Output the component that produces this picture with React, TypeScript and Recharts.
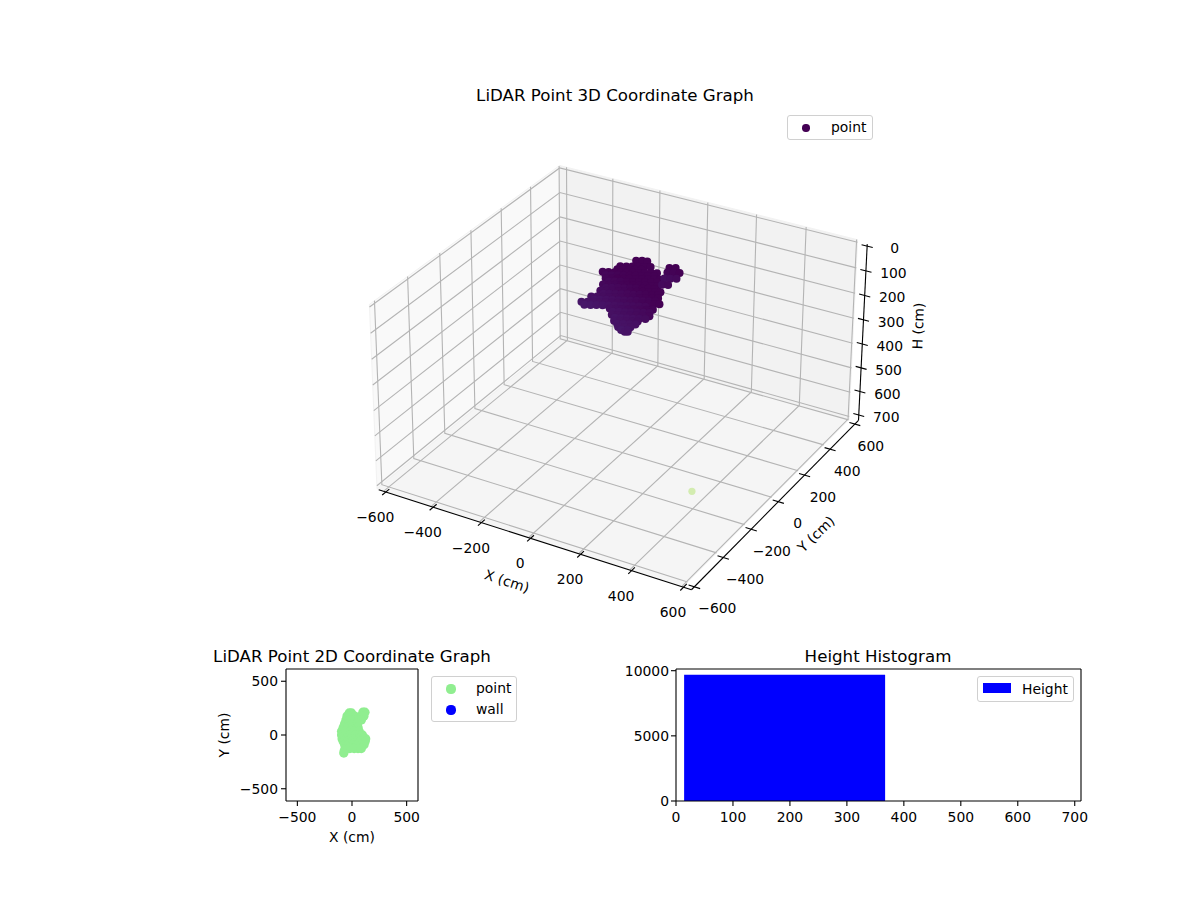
import React from 'react';
import { ScatterChart, Scatter, BarChart, Bar, XAxis, YAxis, ReferenceLine, Legend } from 'recharts';

const FONT = 'DejaVu Sans';
const MINUS = '\u2212';
const fmt = (v: number) => String(v).replace('-', MINUS);

// ---------- data ----------
const xyTicks3D = [-600, -400, -200, 0, 200, 400, 600];
const hTicks3D = [0, 100, 200, 300, 400, 500, 600, 700];
const ticks2D = [-500, 0, 500];
const histXTicks = [0, 100, 200, 300, 400, 500, 600, 700];
const histYTicks = [0, 5000, 10000];
const binMid = [190, 545];
const binCount = [9693, 1];

// LiDAR returns, X / H by sweep row, each row sharing one Y
const cloudRowY = [150, 125, 210, 100, 210, 70, 210, 45, 150, 20, -5, -30, -60, -85, -110, -130, -150];
const cloudRowX = [
  [-8, 16, 37],
  [-58, -33, -9, 16, 40, 65, -70, -46, -21, 3, 28],
  [93, 118],
  [-115, -91, -66, -42, -17, 7, 32, 56, 81, 105, -103, -79, -54, -30, -5, 19, 44, 68, 93],
  [85, 110, 134],
  [-85, -60, -36, -11, 13, 38, 62, 87, 111, 136, -73, -48, -24, 1, 25, 50, 74, 99, 123],
  [73, 97, 122],
  [-81, -57, -32, -8, 17, 41, 66, 90, 115, 139, -69, -45, -20, 4, 29, 53, 78, 102, 127],
  [98, 122],
  [-77, -53, -28, -4, 21, 45, 70, 94, 119, 143, 165, -65, -41, -16, 8, 33, 57, 82, 106, 131, 155],
  [-99, -75, -50, -26, -1, 23, 48, 72, 97, 121, 146, 170, -87, -63, -38, -14, 11, 35, 60, 84, 109, 133, 158],
  [-124, -99, -75, -50, -26, -1, 23, 48, 72, 97, 121, 146, 170, 190, -112, -87, -63, -38, -14, 11, 35, 60, 84, 109, 134],
  [9, 34, 58, 83, 107, 132, 156, 181, 21, 46, 70, 95, 119, 144, 168],
  [32, 56, 80, 105, 129, 154, 182, 44, 68, 92, 117, 141, 166],
  [56, 80, 105, 129, 150, 68, 92, 117, 141],
  [84, 109, 133, 96, 121],
  [122, 134],
];
const cloudRowH = [
  [21, 15, 13],
  [44, 39, 33, 27, 22, 16, 59, 53, 48, 42, 36],
  [51, 45],
  [69, 64, 58, 53, 47, 41, 36, 30, 24, 19, 78, 73, 67, 62, 56, 50, 45, 39, 33],
  [71, 66, 60],
  [73, 67, 61, 56, 50, 44, 39, 33, 27, 22, 82, 76, 70, 65, 59, 53, 48, 42, 36],
  [97, 92, 86],
  [85, 79, 73, 68, 62, 57, 51, 45, 40, 34, 94, 88, 82, 77, 71, 66, 60, 54, 49],
  [88, 83],
  [96, 90, 84, 79, 73, 68, 62, 56, 51, 45, 40, 105, 99, 93, 88, 82, 77, 71, 65, 60, 54],
  [113, 107, 101, 96, 90, 85, 79, 73, 68, 62, 56, 51, 122, 116, 110, 105, 99, 94, 88, 82, 77, 71, 65],
  [128, 122, 116, 111, 105, 99, 94, 88, 83, 77, 71, 66, 60, 56, 137, 131, 125, 120, 114, 108, 103, 97, 92, 86, 80],
  [106, 100, 95, 89, 83, 78, 72, 66, 115, 109, 104, 98, 92, 87, 81],
  [112, 107, 101, 96, 90, 84, 78, 121, 116, 110, 105, 99, 93],
  [117, 111, 106, 100, 95, 126, 120, 115, 109],
  [124, 118, 112, 133, 127],
  [123, 120],
];
const cloudOriginX = -28;
const cloudOriginH = 7;
const strayPoint = { x: 352, y: -120, h: 700 };

// plan view of the same cloud
const planRowY = [212, 205, 175, 140, 105, 70, 35, 0, -35, -60, -90, -125, -145, -167];
const planRowX = [
  [100, 118],
  [-25, -5],
  [-45, -10, 25, 85, 108],
  [-55, -20, 20, 60, 85],
  [-67, -30, 10, 50],
  [-80, -40, 0, 40, 55],
  [-95, -55, -15, 25, 65],
  [-95, -55, -15, 25, 65, 95],
  [-90, -50, -10, 30, 70, 105, 125],
  [-80, -40, 0, 40, 80, 120],
  [-67, -30, 10, 50, 90, 110],
  [-55, -20, 20, 55, 85],
  [-70],
  [-75],
];

// ---------- 3D camera, fitted to grid crossings seen in the picture ----------
type V3 = [number, number, number];
const X0 = -630, E = 604, Z0 = -10, Z1 = 712, A = 630, AY = 620, AXIS_BOT = 722;
const cornerWorld: V3[] = [
  [600, -600, 712], [-600, -600, 712], [600, 600, 712], [-600, 600, 712], [-600, 600, 0],
  [600, 600, 0], [-630, -600, 0], [-630, 600, 0], [-630, 600, 712],
];
const cornerPicture = [[686, 583], [389, 486], [848, 417], [568, 341], [567, 169], [856, 244], [375, 303], [557.7, 168.3], [559, 340.7]];

const norm = (p: V3): V3 => [p[0] / 600, p[1] / 600, (p[2] - 350) / 350];
function fitCamera(): number[] {
  const rows: number[][] = [];
  const rhs: number[] = [];
  cornerWorld.forEach((w, i) => {
    const [a, b, c] = norm(w);
    const u = (cornerPicture[i][0] - 600) / 600;
    const v = (cornerPicture[i][1] - 450) / 600;
    rows.push([a, b, c, 1, 0, 0, 0, 0, -u * a, -u * b, -u * c]); rhs.push(u);
    rows.push([0, 0, 0, 0, a, b, c, 1, -v * a, -v * b, -v * c]); rhs.push(v);
  });
  const n = 11;
  const M = Array.from({ length: n }, (_, i) =>
    Array.from({ length: n + 1 }, (_, j) => rows.reduce((s, row, k) => s + row[i] * (j < n ? row[j] : rhs[k]), 0)),
  );
  for (let i = 0; i < n; i++) {
    let best = i;
    for (let r = i + 1; r < n; r++) if (Math.abs(M[r][i]) > Math.abs(M[best][i])) best = r;
    [M[i], M[best]] = [M[best], M[i]];
    for (let r = 0; r < n; r++) {
      if (r === i) continue;
      const f = M[r][i] / M[i][i];
      for (let c = i; c <= n; c++) M[r][c] -= f * M[i][c];
    }
  }
  return M.map((r, i) => r[n] / r[i]);
}
const P = fitCamera();
function project(x: number, y: number, h: number) {
  const [a, b, c] = norm([x, y, h]);
  const d = P[8] * a + P[9] * b + P[10] * c + 1;
  return {
    px: ((P[0] * a + P[1] * b + P[2] * c + P[3]) / d) * 600 + 600,
    py: ((P[4] * a + P[5] * b + P[6] * c + P[7]) / d) * 600 + 450,
  };
}
const path3 = (pts: V3[]) => pts.map((p) => project(p[0], p[1], p[2]));
// the H axis stands slightly in front of the box, so its scale runs a little shorter
const hAxis = (t: number) => t + 20 * (1 - t / 700);

// ---------- shapes ----------
const noShape = () => null;
const TextShape = (p: any) => {
  const d = p.payload;
  return (
    <text
      x={p.cx}
      y={p.cy}
      textAnchor="middle"
      dominantBaseline="central"
      fontFamily={FONT}
      fontSize={d.size ?? 13.9}
      fill="#000"
      transform={d.rot ? `rotate(${d.rot} ${p.cx} ${p.cy})` : undefined}
    >
      {d.label}
    </text>
  );
};
const DotShape3D = (p: any) => <circle cx={p.cx} cy={p.cy} r={p.payload.r} fill={p.payload.fill} />;
const Dot2D = (p: any) => <circle cx={p.cx} cy={p.cy} r={4.7} fill="#90ee90" />;

const polyLine = (key: string, pts: { px: number; py: number }[], stroke: string, width: number) => (
  <Scatter key={key} data={pts} shape={noShape} line={{ stroke, strokeWidth: width }} lineJointType="linear" isAnimationActive={false} />
);
const polygon = (key: string, pts: { px: number; py: number }[], fill: string) => (
  <Scatter
    key={key}
    data={pts}
    shape={noShape}
    isAnimationActive={false}
    line={(lp: any) => (
      <polygon points={lp.points.map((q: any) => `${q.x},${q.y}`).join(' ')} fill={fill} stroke="#f2f2f2" strokeWidth={1} />
    )}
  />
);

// ---------- series built from the arrays ----------
const heightColor = (h: number) => {
  const t = Math.min(1, Math.max(0, (h - 60) / 90));
  return `rgb(${Math.round(68 + 3 * t)},${Math.round(1 + 26 * t)},${Math.round(84 + 25 * t)})`;
};
const cloud3D = cloudRowY.flatMap((y, i) =>
  cloudRowX[i].map((x, j) => ({
    ...project(x + cloudOriginX, y, cloudRowH[i][j] + cloudOriginH),
    fill: heightColor(cloudRowH[i][j]),
    r: 4,
  })),
);
const stray3D = [{ ...project(strayPoint.x, strayPoint.y, strayPoint.h), fill: '#d3ecb0', r: 3.6 }];
const cloud2D = planRowY.flatMap((y, i) => planRowX[i].map((x) => ({ x, y })));
const histData = binMid.map((mid, i) => ({ mid, count: binCount[i] }));

const GRID = '#b4b4b4';
const AXIS = '#000000';

const tickLabels3D = [
  ...xyTicks3D.map((t) => { const q = project(t, -AY, AXIS_BOT); return { px: q.px - 10.5, py: q.py + 25, label: fmt(t) }; }),
  ...xyTicks3D.map((t) => { const q = project(A, t, AXIS_BOT); return { px: q.px + 19.5 - t * 0.0058, py: q.py + 21.5, label: fmt(t) }; }),
  ...hTicks3D.map((t) => { const q = project(A, A, hAxis(t)); return { px: q.px + 27.5, py: q.py + 2, label: fmt(t) }; }),
];
const axisTitles3D = [
  { px: 507, py: 581, label: 'X (cm)', rot: 18 },
  { px: 816, py: 534, label: 'Y (cm)', rot: -44 },
  { px: 918, py: 326, label: 'H (cm)', rot: -88 },
];
const figureTitles = [
  { px: 615, py: 95, label: 'LiDAR Point 3D Coordinate Graph', size: 16.67 },
  { px: 352, py: 656, label: 'LiDAR Point 2D Coordinate Graph', size: 16.67 },
  { px: 878, py: 656, label: 'Height Histogram', size: 16.67 },
];

// ---------- legends ----------
const legendBox = (w: number, h: number): React.CSSProperties => ({
  position: 'relative', width: w, height: h, boxSizing: 'border-box', background: 'rgba(255,255,255,0.8)',
  border: '1px solid #d0d0d0', borderRadius: 3, fontFamily: FONT, fontSize: 13.9, color: '#000',
});
const legendDot = (left: number, top: number, r: number, color: string): React.CSSProperties => ({
  position: 'absolute', left: left - r, top: top - r, width: 2 * r, height: 2 * r, borderRadius: '50%', background: color,
});
const legendText = (left: number, top: number): React.CSSProperties => ({ position: 'absolute', left, top, lineHeight: '16px', whiteSpace: 'nowrap' });
const noOffset = { layout: 'horizontal' as const, verticalAlign: 'middle' as const, align: 'center' as const };

const Legend3D = () => (
  <div style={legendBox(86, 25)}>
    <span style={legendDot(18, 12, 3.7, '#440154')} />
    <span style={legendText(43, 3)}>point</span>
  </div>
);
const Legend2D = () => (
  <div style={legendBox(86, 46)}>
    <span style={legendDot(19, 12, 4.6, '#90ee90')} />
    <span style={legendText(44, 3)}>point</span>
    <span style={legendDot(19, 33, 4.6, '#0000ff')} />
    <span style={legendText(44, 24)}>wall</span>
  </div>
);
const LegendHist = () => (
  <div style={legendBox(97, 26)}>
    <span style={{ position: 'absolute', left: 5, top: 6, width: 28, height: 10, background: '#0000ff' }} />
    <span style={legendText(44, 4)}>Height</span>
  </div>
);

const layer: React.CSSProperties = { position: 'absolute', left: 0, top: 0 };
const tickStyle = { fill: '#000', fontSize: 13.9, fontFamily: FONT };
const lineStyle = { stroke: '#000', strokeWidth: 1.1 };

export default function App() {
  return (
    <div style={{ position: 'absolute', left: 0, top: 0, width: 1200, height: 900, background: '#fff', fontFamily: FONT, overflow: 'hidden' }}>
      {/* 3D panel */}
      <div style={layer}>
        <ScatterChart width={1200} height={900} margin={{ top: 0, right: 0, bottom: 0, left: 0 }}>
          <XAxis type="number" dataKey="px" domain={[0, 1200]} hide />
          <YAxis type="number" dataKey="py" domain={[0, 900]} reversed hide />
          <Legend {...noOffset} content={Legend3D} wrapperStyle={{ left: 787, top: 115, width: 86, height: 25, bottom: 'auto' }} />
          {polygon('paneLeft', path3([[X0, X0, Z1], [X0, E, Z1], [X0, E, Z0], [X0, X0, Z0]]), '#f9f9f9')}
          {polygon('paneBack', path3([[X0, E, Z1], [E, E, Z1], [E, E, Z0], [X0, E, Z0]]), '#f2f2f2')}
          {polygon('paneFloor', path3([[X0, X0, Z1], [E, X0, Z1], [E, E, Z1], [X0, E, Z1]]), '#f5f5f5')}
          {xyTicks3D.map((t) => polyLine(`gx${t}`, path3([[t, X0, Z1], [t, E, Z1], [t, E, Z0]]), GRID, 1.1))}
          {xyTicks3D.map((t) => polyLine(`gy${t}`, path3([[E, t, Z1], [X0, t, Z1], [X0, t, Z0]]), GRID, 1.1))}
          {hTicks3D.map((t) => polyLine(`gh${t}`, path3([[X0, X0, t], [X0, E, t], [E, E, t]]), GRID, 1.1))}
          {polyLine('axisX', path3([[-A, -AY, AXIS_BOT], [A, -AY, AXIS_BOT]]), AXIS, 1.1)}
          {polyLine('axisY', path3([[A, -AY, AXIS_BOT], [A, A, AXIS_BOT]]), AXIS, 1.1)}
          {polyLine('axisH', path3([[A, A, AXIS_BOT], [A, A, hAxis(-8)]]), AXIS, 1.1)}
          {xyTicks3D.map((t) => polyLine(`tx${t}`, path3([[t, -AY + 22, AXIS_BOT], [t, -AY - 22, AXIS_BOT]]), AXIS, 1.1))}
          {xyTicks3D.map((t) => polyLine(`ty${t}`, path3([[A - 22, t, AXIS_BOT], [A + 22, t, AXIS_BOT]]), AXIS, 1.1))}
          {hTicks3D.map((t) => polyLine(`th${t}`, path3([[A - 22, A, hAxis(t)], [A + 22, A, hAxis(t)]]), AXIS, 1.1))}
          <Scatter data={stray3D} shape={DotShape3D} isAnimationActive={false} />
          <Scatter data={cloud3D} shape={DotShape3D} isAnimationActive={false} />
          <Scatter data={tickLabels3D} shape={TextShape} isAnimationActive={false} />
          <Scatter data={axisTitles3D} shape={TextShape} isAnimationActive={false} />
          <Scatter data={figureTitles} shape={TextShape} isAnimationActive={false} />
        </ScatterChart>
      </div>

      {/* 2D panel */}
      <div style={layer}>
        <ScatterChart width={1200} height={900} margin={{ top: 669, right: 782, bottom: 59, left: 226 }}>
          <XAxis
            type="number" dataKey="x" domain={[-604, 604]} ticks={ticks2D} tickFormatter={fmt} height={40}
            tick={tickStyle} axisLine={lineStyle} tickLine={lineStyle} tickSize={5} tickMargin={6} interval={0}
            label={{ value: 'X (cm)', position: 'insideBottom', offset: -1, style: { fill: '#000', fontSize: 13.9, fontFamily: FONT } }}
          />
          <YAxis
            type="number" dataKey="y" domain={[-614, 614]} ticks={ticks2D} tickFormatter={fmt} width={60}
            tick={tickStyle} axisLine={lineStyle} tickLine={lineStyle} tickSize={5} tickMargin={3} interval={0}
            label={{ value: 'Y (cm)', angle: -90, position: 'insideLeft', offset: -2, style: { fill: '#000', fontSize: 13.9, fontFamily: FONT, textAnchor: 'middle' } }}
          />
          <ReferenceLine x={604} stroke="#000" strokeWidth={1.1} />
          <ReferenceLine y={614} stroke="#000" strokeWidth={1.1} />
          <Legend {...noOffset} content={Legend2D} wrapperStyle={{ left: 431, top: 676, width: 86, height: 46, bottom: 'auto' }} />
          <Scatter name="point" data={cloud2D} shape={Dot2D} isAnimationActive={false} />
        </ScatterChart>
      </div>

      {/* histogram */}
      <div style={layer}>
        <BarChart width={1200} height={900} data={histData} margin={{ top: 669, right: 119, bottom: 59, left: 616 }}>
          <XAxis
            type="number" dataKey="mid" domain={[0, 711]} ticks={histXTicks} height={40}
            tick={tickStyle} axisLine={lineStyle} tickLine={lineStyle} tickSize={5} tickMargin={6} interval={0}
          />
          <YAxis
            type="number" domain={[0, 10130]} ticks={histYTicks} width={60}
            tick={tickStyle} axisLine={lineStyle} tickLine={lineStyle} tickSize={5} tickMargin={2} interval={0}
          />
          <ReferenceLine x={711} stroke="#000" strokeWidth={1.1} />
          <ReferenceLine y={10130} stroke="#000" strokeWidth={1.1} />
          <Legend {...noOffset} content={LegendHist} wrapperStyle={{ left: 977, top: 676, width: 97, height: 26, bottom: 'auto' }} />
          <Bar dataKey="count" name="Height" fill="#0000ff" barSize={201} isAnimationActive={false} />
        </BarChart>
      </div>
    </div>
  );
}
